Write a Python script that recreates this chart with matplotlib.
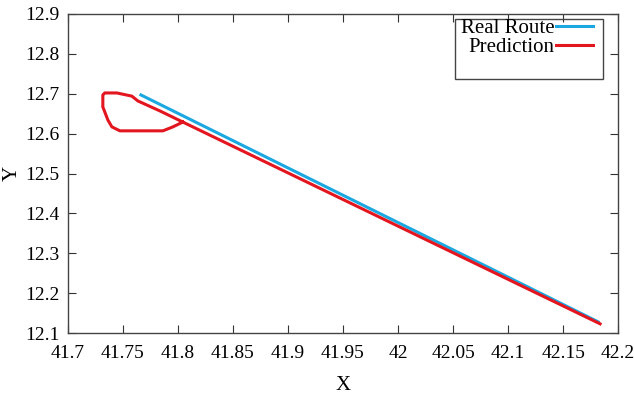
import matplotlib
matplotlib.use("Agg")
import matplotlib.pyplot as plt
from matplotlib.patches import Rectangle

# data
real_x = [41.7664, 42.1818]
real_y = [12.697, 12.128]

pred_x = [41.8045, 41.7955, 41.7864, 41.7682, 41.7473, 41.7400, 41.7364,
          41.7318, 41.7318, 41.7336, 41.7445, 41.7582, 41.7636, 41.7836,
          41.8045, 42.1836]
pred_y = [12.629, 12.617, 12.607, 12.607, 12.607, 12.617, 12.634,
          12.667, 12.697, 12.702, 12.702, 12.694, 12.682, 12.657,
          12.629, 12.123]

x_ticks = [41.7, 41.75, 41.8, 41.85, 41.9, 41.95, 42.0, 42.05, 42.1, 42.15, 42.2]
x_labels = ["41.7", "41.75", "41.8", "41.85", "41.9", "41.95", "42", "42.05", "42.1", "42.15", "42.2"]
y_ticks = [12.1, 12.2, 12.3, 12.4, 12.5, 12.6, 12.7, 12.8, 12.9]

plt.rcParams['font.family'] = ['Liberation Serif', 'DejaVu Serif']

fig = plt.figure(figsize=(6.34, 4.0), dpi=100)
ax = fig.add_axes([0.107, 0.1675, 0.868, 0.7975])

l1, = ax.plot(real_x, real_y, color='#1ba8e0', lw=2.2, label='Real Route')
l2, = ax.plot(pred_x, pred_y, color='#e3151f', lw=2.2, label='Prediction')

ax.set_xlim(41.7, 42.2)
ax.set_ylim(12.1, 12.9)
ax.set_xticks(x_ticks)
ax.set_xticklabels(x_labels)
ax.set_yticks(y_ticks)
ax.tick_params(direction='in', length=6, width=0.8, top=True, right=True,
               labelsize=14, colors='#333333', labelcolor='black')
ax.tick_params(axis='x', pad=9)
ax.tick_params(axis='y', pad=6)
for s in ax.spines.values():
    s.set_color('#444444')
    s.set_linewidth(1.0)

ax.set_xlabel("X", fontsize=15, labelpad=10)
ax.set_ylabel("Y", fontsize=15)
ax.yaxis.set_label_coords(-0.084, 0.5)

# legend frame drawn separately (box is taller than the entries)
ax.add_patch(Rectangle((0.7036, 0.796), 0.2691, 0.188, transform=ax.transAxes,
                       fill=False, edgecolor='#444444', lw=1.0, zorder=5))
ax.legend(handles=[l1, l2], loc='upper right', bbox_to_anchor=(0.955, 0.985),
          frameon=False, markerfirst=False, fontsize=15, handlelength=1.8,
          handletextpad=0.05, labelspacing=-0.05, borderaxespad=0.0, borderpad=0.0)

fig.savefig("out.png", dpi=100)
